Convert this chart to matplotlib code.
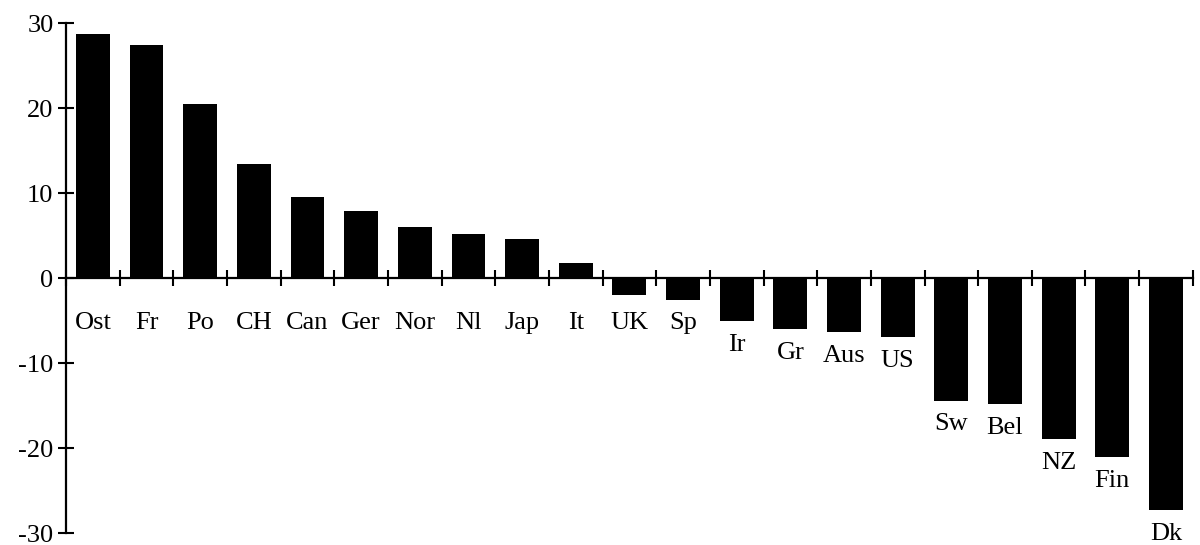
import matplotlib
matplotlib.use('Agg')
import matplotlib.pyplot as plt
import numpy as np

# Data
countries = ['Ost', 'Fr', 'Po', 'CH', 'Can', 'Ger', 'Nor', 'Nl', 'Jap', 'It', 'UK',
             'Sp', 'Ir', 'Gr', 'Aus', 'US', 'Sw', 'Bel', 'NZ', 'Fin', 'Dk']
values = [28.8, 27.5, 20.5, 13.4, 9.6, 7.9, 6.0, 5.2, 4.6, 1.8, -1.9,
          -2.5, -5.0, -6.0, -6.3, -6.9, -14.4, -14.8, -18.9, -21.0, -27.3]
y_ticks = [-30, -20, -10, 0, 10, 20, 30]

plt.rcParams['font.family'] = ['Liberation Serif', 'DejaVu Serif']

fig = plt.figure(figsize=(12, 5.45), dpi=100)
ax = fig.add_axes([0.055, 0.0215, 0.939, 0.9355])

index = np.arange(len(countries)) + 0.5
ax.bar(index, values, width=0.63, color='black')

ax.set_xlim(0, len(countries))
ax.set_ylim(-30, 30)

# axis lines: y axis on the left, x axis through zero
for side in ['top', 'right']:
    ax.spines[side].set_visible(False)
ax.spines['bottom'].set_position(('data', 0))
ax.spines['left'].set_linewidth(1.6)
ax.spines['bottom'].set_linewidth(1.6)

ax.set_yticks(y_ticks)
ax.set_yticklabels([str(t) for t in y_ticks], fontsize=19)
ax.set_xticks(np.arange(len(countries) + 1))
ax.set_xticklabels([])
ax.tick_params(axis='both', direction='inout', length=12, width=1.5)
ax.tick_params(axis='y', pad=3)

# category labels under the bars (or under the bar end for negatives)
for x, v, name in zip(index, values, countries):
    y = min(v - 1.5, -4.0)
    ax.text(x, y, name, ha='center', va='top', fontsize=19, clip_on=False)

fig.savefig('out.png', dpi=100)
